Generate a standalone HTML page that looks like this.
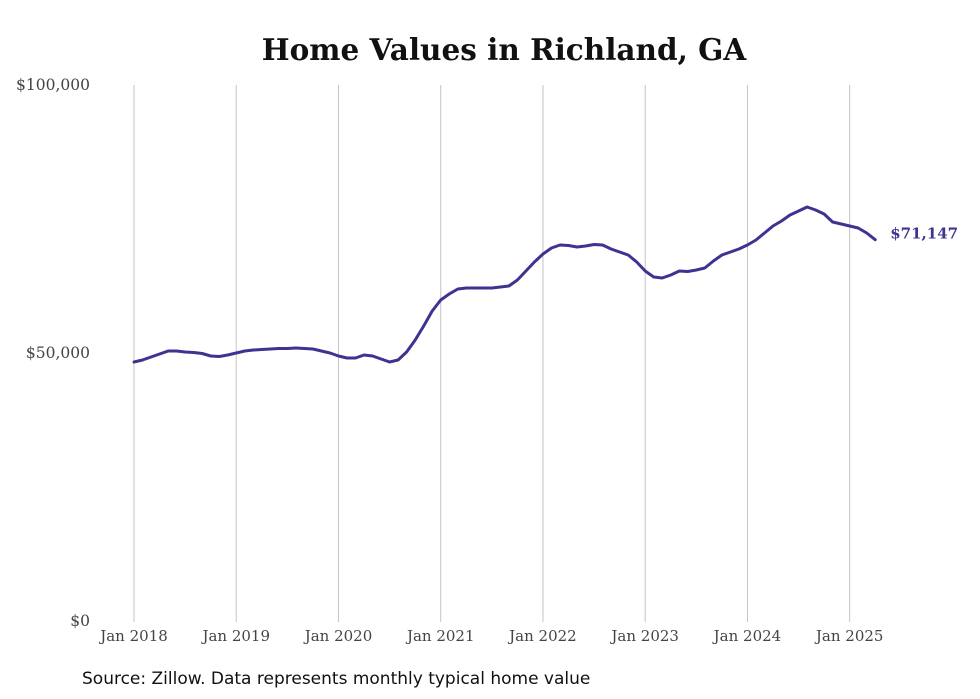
<!DOCTYPE html>
<html><head><meta charset="utf-8"><style>
body{margin:0;background:#fff;width:980px;height:699px;overflow:hidden}
svg{display:block}
</style></head><body>
<svg id="chart" width="980" height="699" xmlns="http://www.w3.org/2000/svg">
<text x="504" y="60" text-anchor="middle" font-family="'DejaVu Serif','Liberation Serif',serif" font-weight="bold" font-size="29.5" fill="#111">Home Values in Richland, GA</text>
<g id="grid"></g>
<g id="yaxis"></g>
<g id="xaxis"></g>
<g id="series"></g>
<text x="82" y="684" font-family="'DejaVu Sans','Liberation Sans',sans-serif" font-size="17" fill="#111">Source: Zillow. Data represents monthly typical home value</text>
</svg>
<script>
const values = [48.32,48.69,49.25,49.81,50.37,50.37,50.19,50.09,49.91,49.44,49.35,49.63,
50.00,50.37,50.56,50.65,50.75,50.84,50.84,50.93,50.84,50.75,50.37,50.00,
49.44,49.07,49.07,49.63,49.44,48.88,48.32,48.69,50.19,52.43,55.04,57.84,
59.89,61.01,61.94,62.13,62.13,62.13,62.13,62.31,62.50,63.62,65.30,66.98,
68.47,69.59,70.15,70.06,69.78,69.96,70.24,70.15,69.40,68.84,68.28,66.98,
65.30,64.18,63.99,64.55,65.30,65.21,65.49,65.86,67.17,68.28,68.84,69.40,
70.15,71.08,72.39,73.70,74.63,75.75,76.49,77.24,76.68,75.93,74.44,74.07,
73.70,73.32,72.39,71.147];
const xTickLabels = ["Jan 2018","Jan 2019","Jan 2020","Jan 2021","Jan 2022","Jan 2023","Jan 2024","Jan 2025"];
const yTicks = [0,50,100];
const yTickLabels = ["$0","$50,000","$100,000"];
const lastLabel = "$71,147";

const NS="http://www.w3.org/2000/svg";
const x0=134, monthW=8.52, yTop=85, yBot=621, yMax=100;
const xS=i=>x0+i*monthW;
const yS=v=>yBot-(v/yMax)*(yBot-yTop);
function mk(tag,attrs,parent){const e=document.createElementNS(NS,tag);for(const k in attrs)e.setAttribute(k,attrs[k]);parent.appendChild(e);return e;}
const grid=document.getElementById('grid'),xa=document.getElementById('xaxis'),ya=document.getElementById('yaxis'),se=document.getElementById('series');
xTickLabels.forEach((lab,k)=>{
  const x=xS(k*12);
  const l=mk('line',{x1:x,x2:x,y1:yTop,y2:yBot+1,stroke:'#c4c4c4','stroke-width':1},grid);
  
  
  const t=mk('text',{x:x,y:641,'text-anchor':'middle','font-family':"'DejaVu Serif','Liberation Serif',serif",'font-size':15,fill:'#444'},xa);
  t.textContent=lab;
  
  
});
yTicks.forEach((v,k)=>{
  const t=mk('text',{x:90,y:yS(v)+5,'text-anchor':'end','font-family':"'DejaVu Serif','Liberation Serif',serif",'font-size':15.5,fill:'#444'},ya);
  t.textContent=yTickLabels[k];
  
  
});
const d=values.map((v,i)=>(i?'L':'M')+xS(i).toFixed(1)+','+yS(v).toFixed(1)).join(' ');
const p=mk('path',{d:d,fill:'none',stroke:'#3d3391','stroke-width':3,'stroke-linejoin':'round','stroke-linecap':'round'},se);


const li=values.length-1;
const lt=mk('text',{x:xS(li)+15,y:yS(values[li])-1,'font-family':"'DejaVu Serif','Liberation Serif',serif",'font-weight':'bold','font-size':15,fill:'#3d3391'},se);
lt.textContent=lastLabel;


</script>
</body></html>
